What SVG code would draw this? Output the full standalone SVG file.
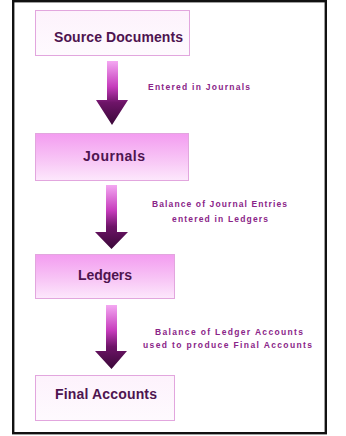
<svg xmlns="http://www.w3.org/2000/svg" width="346" height="436" viewBox="0 0 346 436">
<defs>
<linearGradient id="arrowGrad" x1="0" y1="0" x2="0" y2="1">
<stop offset="0" stop-color="#f4a8f2"/>
<stop offset="0.4" stop-color="#c63cbc"/>
<stop offset="0.65" stop-color="#6e1468"/>
<stop offset="1" stop-color="#3a0838"/>
</linearGradient>
<linearGradient id="pinkFill" x1="0" y1="0" x2="0" y2="1">
<stop offset="0" stop-color="#f39cf0"/>
<stop offset="0.6" stop-color="#f8c8f6"/>
<stop offset="1" stop-color="#fde8fc"/>
</linearGradient>
<linearGradient id="paleFill" x1="0" y1="0" x2="0" y2="1">
<stop offset="0" stop-color="#fdf2fc"/>
<stop offset="1" stop-color="#fefafe"/>
</linearGradient>
<style>
.box{stroke:#e2a6de;stroke-width:1}
.pale{fill:url(#paleFill)}
.pink{fill:url(#pinkFill)}
.title{font-family:"Liberation Sans",Arial,sans-serif;font-weight:bold;font-size:14px;fill:#4e1450;text-anchor:start}
.lbl{font-family:"Liberation Sans",Arial,sans-serif;font-weight:bold;font-size:8.5px;fill:#8a2488;text-anchor:start}
.arrow{fill:url(#arrowGrad)}
</style>
</defs>
<rect x="0" y="0" width="346" height="436" fill="#ffffff"/>
<rect x="13.2" y="1.2" width="312.6" height="432" fill="#ffffff" stroke="#111111" stroke-width="2.4"/>
<g id="connectors">
<path class="arrow" d="M107,61 H118 V100 H128 L112,125 L96,100 H107 Z"/>
<path class="arrow" d="M106,185 H117 V232 H128 L111.5,249 L95,232 H106 Z"/>
<path class="arrow" d="M106,305 H117 V351 H127 L111.5,369 L95,351 H106 Z"/>
<text class="lbl" x="148" y="90" textLength="102" lengthAdjust="spacing">Entered in Journals</text>
<text class="lbl" x="152" y="207" textLength="135" lengthAdjust="spacing">Balance of Journal Entries</text>
<text class="lbl" x="172" y="222" textLength="96" lengthAdjust="spacing">entered in Ledgers</text>
<text class="lbl" x="155" y="335" textLength="148" lengthAdjust="spacing">Balance of Ledger Accounts</text>
<text class="lbl" x="143" y="348" textLength="169" lengthAdjust="spacing">used to produce Final Accounts</text>
</g>
<g id="source-documents">
<rect class="box pale" x="35.5" y="10.5" width="154" height="45"/>
<text class="title" x="54" y="42" textLength="129" lengthAdjust="spacing">Source Documents</text>
</g>
<g id="journals">
<rect class="box pink" x="35.5" y="133.5" width="153" height="47"/>
<text class="title" x="83" y="161" textLength="62" lengthAdjust="spacing">Journals</text>
</g>
<g id="ledgers">
<rect class="box pink" x="35.5" y="254.5" width="139" height="44"/>
<text class="title" x="78" y="280" textLength="54" lengthAdjust="spacing">Ledgers</text>
</g>
<g id="final-accounts">
<rect class="box pale" x="35.5" y="375.5" width="139" height="45"/>
<text class="title" x="55" y="399" textLength="102" lengthAdjust="spacing">Final Accounts</text>
</g>
</svg>
